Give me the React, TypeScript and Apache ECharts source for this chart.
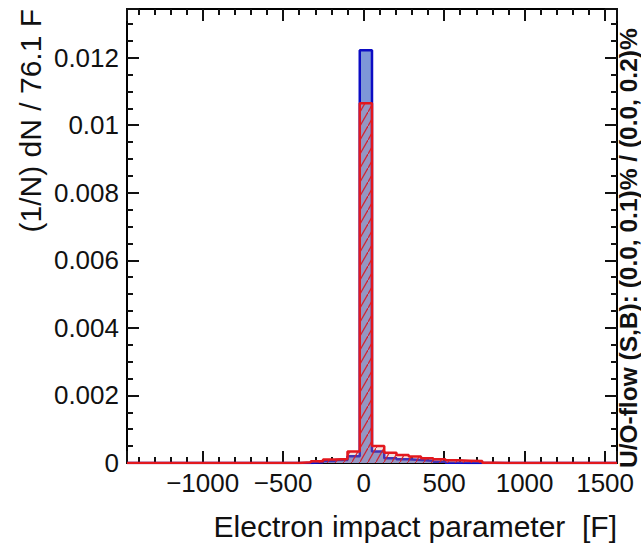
import React, { useEffect, useRef } from "react";
import * as echarts from "echarts";

// Histogram binning (40 bins, 76.1 F wide)
const X_MIN = -1470;
const BIN_WIDTH = 76.1;
const N_BINS = 40;
const Y_MAX = 0.01344;

// Signal (blue, solid) bin contents, normalised
const signalValues: number[] = [
  0, 0, 0, 0, 0, 0, 0, 0, 0, 0,
  0, 0, 0, 0, 0, 0.00002, 0.00006, 0.00009, 0.0002, 0.01222,
  0.00034, 0.00014, 0.00011, 0.00009, 0.00007, 0.00004, 0.00001, 0, 0, 0,
  0, 0, 0, 0, 0, 0, 0, 0, 0, 0,
];

// Background (red, hatched) bin contents, normalised
const backgroundValues: number[] = [
  0, 0, 0, 0, 0, 0, 0, 0, 0, 0,
  0, 0, 0, 0, 0.00002, 0.00005, 0.0001, 0.00012, 0.00034, 0.01065,
  0.0005, 0.0003, 0.00024, 0.00019, 0.00014, 0.00011, 0.00008, 0.00007, 0.00006, 0.00001,
  0, 0, 0, 0, 0, 0, 0, 0, 0, 0,
];

const xTitle = "Electron impact parameter  [F]";
const yTitle = "(1/N) dN / 76.1 F";
const flowText = "U/O-flow (S,B): (0.0, 0.1)% / (0.0, 0.2)%";

const FONT = '"Liberation Sans", Arial, Helvetica, sans-serif';
const X_MAX = X_MIN + N_BINS * BIN_WIDTH;

function stepData(values: number[]): number[][] {
  const pts: number[][] = values.map((v, i) => [X_MIN + i * BIN_WIDTH, v]);
  pts.push([X_MAX, values[values.length - 1]]);
  return pts;
}

function hatchCanvas(): HTMLCanvasElement {
  const w = 8;
  const h = 14;
  const c = document.createElement("canvas");
  c.width = w;
  c.height = h;
  const ctx = c.getContext("2d")!;
  ctx.fillStyle = "rgba(205,150,140,0.28)";
  ctx.fillRect(0, 0, w, h);
  ctx.strokeStyle = "rgba(215,30,40,0.95)";
  ctx.lineWidth = 1.3;
  ctx.beginPath();
  ctx.moveTo(-w, 2 * h);
  ctx.lineTo(2 * w, -h);
  ctx.stroke();
  return c;
}

export default function App() {
  const ref = useRef<HTMLDivElement>(null);

  useEffect(() => {
    if (!ref.current) return;
    const chart = echarts.init(ref.current, undefined, { renderer: "svg" });

    const lineStyle = { color: "#000", width: 2 };
    const tickLine = { color: "#111", width: 2 };
    const xCommon = {
      type: "value" as const,
      min: X_MIN,
      max: X_MAX,
      minInterval: 500,
      maxInterval: 500,
      splitLine: { show: false },
      axisLine: { show: true, onZero: false, lineStyle },
      axisTick: { show: true, inside: true, length: 12, lineStyle: tickLine },
      minorTick: { show: true, splitNumber: 5, length: 6, lineStyle: tickLine },
    };
    const yCommon = {
      type: "value" as const,
      min: 0,
      max: Y_MAX,
      minInterval: 0.002,
      maxInterval: 0.002,
      splitLine: { show: false },
      axisLine: { show: true, onZero: false, lineStyle },
      axisTick: { show: true, inside: true, length: 12, lineStyle: tickLine },
      minorTick: { show: true, splitNumber: 4, length: 6, lineStyle: tickLine },
    };

    chart.setOption({
      animation: false,
      backgroundColor: "#fff",
      grid: { left: 127, right: 24, top: 9, bottom: 80, containLabel: false, outerBoundsMode: "none" },
      xAxis: [
        {
          ...xCommon,
          position: "bottom",
          axisLabel: {
            show: true,
            fontSize: 26,
            fontFamily: FONT,
            color: "#111",
            margin: 7,
            showMinLabel: false,
            showMaxLabel: false,
            formatter: (v: number) => (v < 0 ? "\u2212" + Math.abs(v) : String(v)),
          },
        },
        { ...xCommon, position: "top", axisLabel: { show: false } },
      ],
      yAxis: [
        {
          ...yCommon,
          position: "left",
          axisLabel: {
            show: true,
            fontSize: 26,
            fontFamily: FONT,
            color: "#111",
            margin: 8,
            showMaxLabel: false,
            formatter: (v: number) => String(parseFloat(v.toFixed(4))),
          },
        },
        { ...yCommon, position: "right", axisLabel: { show: false } },
      ],
      series: [
        {
          name: "Signal",
          type: "line",
          step: "end",
          xAxisIndex: 0,
          yAxisIndex: 0,
          symbol: "none",
          showSymbol: false,
          data: stepData(signalValues),
          lineStyle: { color: "#0c0cc4", width: 2.5 },
          areaStyle: { color: "#7e97d8", opacity: 1 },
          z: 2,
        },
        {
          name: "Background",
          type: "line",
          step: "end",
          xAxisIndex: 0,
          yAxisIndex: 0,
          symbol: "none",
          showSymbol: false,
          data: stepData(backgroundValues),
          lineStyle: { color: "#e3181e", width: 2.5 },
          areaStyle: { color: { image: hatchCanvas(), repetition: "repeat" }, opacity: 1 },
          z: 3,
        },
      ],
      graphic: [
        {
          type: "text",
          x: 617,
          y: 526,
          style: {
            text: xTitle,
            align: "right",
            verticalAlign: "middle",
            fontSize: 30,
            fontFamily: FONT,
            fill: "#111",
          },
        },
        {
          type: "text",
          x: 30,
          y: 9,
          rotation: Math.PI / 2,
          style: {
            text: yTitle,
            align: "right",
            verticalAlign: "middle",
            fontSize: 30,
            fontFamily: FONT,
            fill: "#111",
          },
        },
        {
          type: "text",
          x: 628,
          y: 468,
          rotation: Math.PI / 2,
          style: {
            text: flowText,
            align: "left",
            verticalAlign: "middle",
            fontSize: 24.5,
            fontWeight: "bold",
            fontFamily: FONT,
            fill: "#111",
          },
        },
      ],
    });

    return () => chart.dispose();
  }, []);

  return (
    <div
      ref={ref}
      style={{ position: "fixed", left: 0, top: 0, width: 641, height: 543, background: "#fff" }}
    />
  );
}
